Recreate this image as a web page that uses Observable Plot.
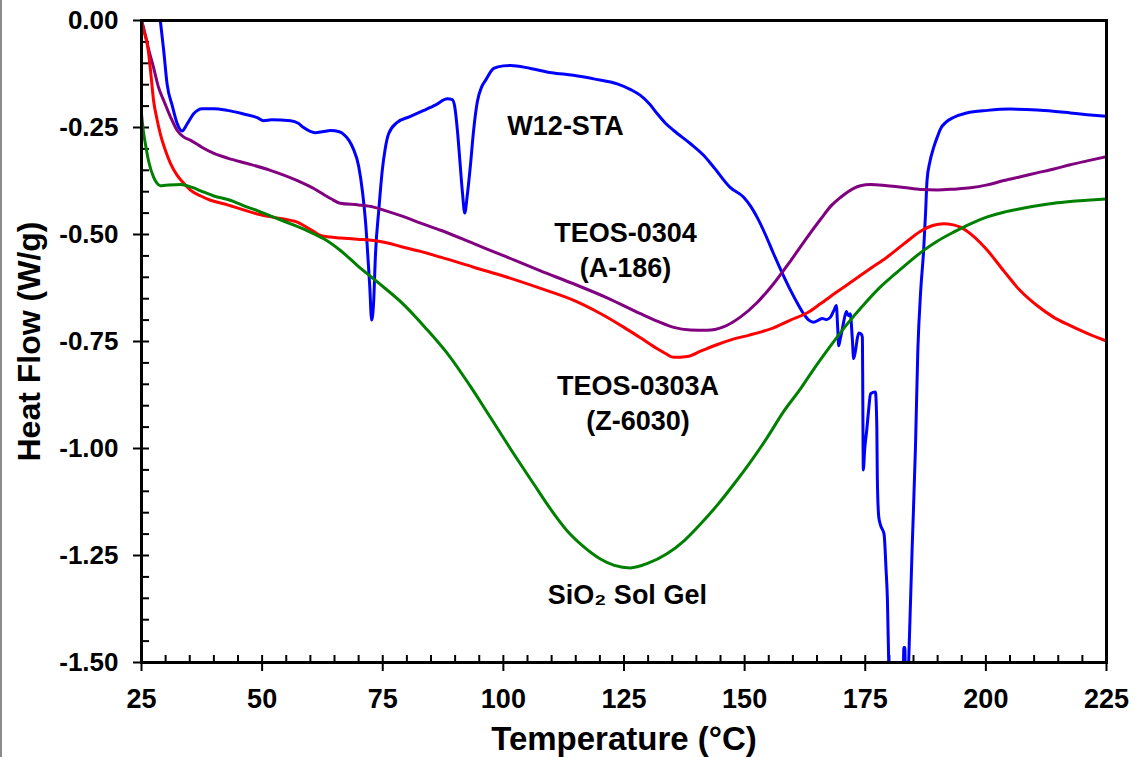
<!DOCTYPE html>
<html>
<head>
<meta charset="utf-8">
<script src="https://cdn.jsdelivr.net/npm/d3@7"></script>
<script src="https://cdn.jsdelivr.net/npm/@observablehq/plot@0.6"></script>
<style>
html, body { margin: 0; padding: 0; background: #fff; }
#chart { position: relative; width: 1138px; height: 757px; overflow: hidden; background: #fff; }
#edge { position: absolute; left: 0; top: 0; width: 2px; height: 757px; background: #8c8c8c; }
</style>
</head>
<body>
<div id="chart"><div id="edge"></div></div>
<script>
// ---- Data ----
const seriesNames = ["W12-STA", "TEOS-0304 (A-186)", "TEOS-0303A (Z-6030)", "SiO2 Sol Gel"];
const seriesColors = ["#0000ff", "#800080", "#ff0000", "#008000"];

const w12T = [28.0, 28.9, 29.6, 30.3, 31.4, 32.4, 33.4, 34.5, 35.8, 37.6, 40.0, 42.8, 46.0, 49.0, 50.3, 52.0, 55.9, 57.5, 58.6, 61.0, 62.5, 64.2, 66.0, 66.9, 68.0, 68.9, 70.0, 70.8, 71.5, 71.8, 72.3, 72.7, 73.1, 73.5, 74.2, 74.9, 75.5, 76.2, 78.0, 80.5, 83.5, 86.0, 88.4, 89.4, 89.9, 90.5, 91.0, 91.5, 92.0, 92.5, 93.2, 93.8, 94.6, 95.5, 96.3, 98.0, 100.0, 101.5, 105.6, 110.0, 114.5, 119.0, 123.6, 126.5, 128.4, 130.3, 131.9, 133.6, 135.3, 138.8, 141.5, 143.6, 147.0, 149.8, 151.3, 152.6, 154.3, 156.0, 157.8, 159.5, 161.0, 162.2, 163.3, 164.3, 165.3, 166.1, 166.9, 167.8, 168.6, 169.0, 169.3, 169.5, 169.8, 170.2, 170.6, 171.1, 171.5, 171.9, 172.3, 172.6, 173.0, 173.4, 173.7, 174.2, 174.4, 174.6, 174.9, 175.3, 175.7, 176.1, 177.1, 177.4, 177.5, 177.8, 178.2, 178.9, 179.3, 179.6, 179.9, 180.2, 182.8, 183.0, 183.2, 183.4, 183.8, 184.0, 184.7, 185.4, 185.9, 186.5, 187.1, 187.5, 187.8, 188.4, 189.2, 190.0, 190.6, 191.8, 193.4, 196.0, 200.3, 205.0, 210.6, 214.0, 217.5, 221.0, 225.0];
const w12V = [0.08, 0.0, -0.07, -0.148, -0.20, -0.241, -0.258, -0.241, -0.218, -0.206, -0.206, -0.21, -0.218, -0.227, -0.234, -0.232, -0.234, -0.240, -0.25, -0.262, -0.260, -0.257, -0.260, -0.266, -0.28, -0.30, -0.34, -0.40, -0.48, -0.53, -0.62, -0.70, -0.66, -0.545, -0.44, -0.35, -0.30, -0.265, -0.238, -0.225, -0.21, -0.197, -0.183, -0.185, -0.20, -0.26, -0.33, -0.40, -0.45, -0.41, -0.335, -0.26, -0.19, -0.155, -0.14, -0.112, -0.106, -0.105, -0.112, -0.122, -0.128, -0.137, -0.148, -0.162, -0.175, -0.195, -0.218, -0.240, -0.257, -0.288, -0.315, -0.343, -0.39, -0.413, -0.435, -0.46, -0.50, -0.545, -0.59, -0.63, -0.662, -0.685, -0.70, -0.705, -0.700, -0.696, -0.699, -0.693, -0.675, -0.666, -0.72, -0.76, -0.745, -0.724, -0.70, -0.68, -0.69, -0.685, -0.74, -0.79, -0.77, -0.74, -0.73, -0.733, -0.74, -1.05, -1.00, -0.958, -0.91, -0.872, -0.868, -0.95, -1.067, -1.16, -1.18, -1.20, -1.28, -1.355, -1.52, -1.60, -1.60, -1.465, -1.465, -1.60, -1.58, -1.50, -1.24, -1.0, -0.77, -0.63, -0.537, -0.45, -0.374, -0.33, -0.296, -0.27, -0.253, -0.237, -0.226, -0.216, -0.21, -0.207, -0.209, -0.212, -0.216, -0.220, -0.224];

const teos0304T = [25.0, 25.5, 26.3, 27.5, 28.5, 29.6, 31.0, 32.4, 33.7, 35.2, 37.5, 39.9, 43.0, 46.9, 51.7, 57.3, 60.8, 64.2, 66.2, 70.0, 73.1, 76.0, 78.7, 83.0, 87.0, 94.0, 100.8, 107.7, 114.5, 121.5, 128.4, 132.0, 135.3, 138.8, 142.2, 145.6, 149.1, 152.5, 156.0, 159.5, 163.0, 165.7, 168.0, 169.9, 172.6, 174.0, 176.1, 179.5, 183.0, 186.5, 189.9, 193.4, 196.8, 200.3, 203.7, 207.2, 210.6, 214.1, 217.5, 221.0, 225.0];
const teos0304V = [0.0, -0.02, -0.06, -0.11, -0.155, -0.187, -0.225, -0.257, -0.272, -0.28, -0.296, -0.31, -0.322, -0.334, -0.35, -0.374, -0.393, -0.416, -0.427, -0.431, -0.436, -0.446, -0.456, -0.474, -0.49, -0.522, -0.553, -0.585, -0.615, -0.648, -0.685, -0.703, -0.717, -0.723, -0.724, -0.716, -0.693, -0.66, -0.615, -0.562, -0.506, -0.465, -0.432, -0.413, -0.392, -0.386, -0.383, -0.386, -0.39, -0.395, -0.396, -0.394, -0.391, -0.384, -0.374, -0.365, -0.356, -0.347, -0.337, -0.328, -0.318];

const teos0303T = [25.0, 25.5, 26.2, 26.9, 27.5, 28.2, 28.9, 30.0, 31.0, 32.4, 33.8, 35.2, 37.3, 39.3, 42.0, 45.5, 49.0, 52.5, 55.9, 57.5, 58.6, 60.3, 62.1, 64.0, 66.2, 69.7, 73.1, 76.0, 78.7, 83.0, 87.0, 94.0, 100.8, 107.7, 114.6, 120.0, 125.0, 128.5, 131.9, 133.6, 135.3, 138.1, 141.0, 144.4, 147.8, 151.0, 153.3, 156.0, 159.5, 163.0, 165.7, 169.0, 172.6, 176.0, 179.5, 183.0, 186.4, 189.0, 191.3, 193.0, 194.7, 197.5, 200.3, 203.7, 207.1, 210.6, 214.0, 217.5, 221.0, 225.0];
const teos0303V = [0.0, -0.025, -0.054, -0.12, -0.187, -0.23, -0.265, -0.305, -0.334, -0.362, -0.381, -0.397, -0.41, -0.42, -0.428, -0.44, -0.452, -0.46, -0.467, -0.472, -0.479, -0.49, -0.502, -0.506, -0.508, -0.511, -0.514, -0.52, -0.528, -0.54, -0.553, -0.577, -0.60, -0.626, -0.654, -0.684, -0.717, -0.742, -0.767, -0.778, -0.787, -0.785, -0.772, -0.757, -0.744, -0.735, -0.728, -0.718, -0.70, -0.683, -0.662, -0.635, -0.607, -0.58, -0.553, -0.522, -0.493, -0.479, -0.475, -0.477, -0.483, -0.505, -0.537, -0.585, -0.631, -0.666, -0.693, -0.713, -0.731, -0.749];

const sio2T = [25.0, 25.4, 25.8, 26.5, 27.5, 28.2, 28.9, 30.0, 33.1, 35.5, 37.9, 40.0, 43.4, 46.0, 49.0, 52.5, 55.9, 59.5, 62.8, 66.3, 69.7, 74.0, 78.7, 84.0, 89.0, 93.0, 97.3, 102.0, 106.3, 110.0, 113.2, 116.5, 120.1, 123.0, 126.3, 130.0, 133.9, 137.5, 140.9, 144.5, 147.8, 151.3, 154.7, 158.0, 161.6, 164.3, 167.5, 171.2, 175.0, 178.1, 181.0, 184.0, 187.1, 190.0, 193.4, 196.8, 200.3, 203.7, 207.2, 210.6, 214.1, 217.5, 221.0, 225.0];
const sio2V = [-0.218, -0.26, -0.288, -0.33, -0.366, -0.380, -0.386, -0.385, -0.383, -0.39, -0.401, -0.41, -0.42, -0.432, -0.444, -0.46, -0.475, -0.492, -0.51, -0.538, -0.572, -0.612, -0.657, -0.72, -0.787, -0.852, -0.927, -1.01, -1.083, -1.145, -1.192, -1.228, -1.258, -1.273, -1.279, -1.268, -1.246, -1.215, -1.176, -1.13, -1.083, -1.03, -0.974, -0.915, -0.86, -0.815, -0.765, -0.71, -0.66, -0.623, -0.594, -0.565, -0.537, -0.515, -0.494, -0.475, -0.459, -0.448, -0.44, -0.433, -0.427, -0.423, -0.42, -0.417];

const xMajorTicks = [25, 50, 75, 100, 125, 150, 175, 200, 225];
const xMinorTicks = d3.range(25, 226, 5);
const yMajorTicks = [0, -0.25, -0.5, -0.75, -1.0, -1.25, -1.5];
const yMinorTicks = d3.range(0, 31).map(i => -i * 0.05);

const labelText = ["W12-STA", "TEOS-0304\n(A-186)", "TEOS-0303A\n(Z-6030)", "SiO\u2082 Sol Gel"];
const labelT = [112.9, 125.3, 127.9, 125.7];
const labelV = [-0.241, -0.5315, -0.889, -1.336];

const xTitle = "Temperature (\u00B0C)";
const yTitle = "Heat Flow (W/g)";

// ---- Build table ----
const seriesT = [w12T, teos0304T, teos0303T, sio2T];
const seriesV = [w12V, teos0304V, teos0303V, sio2V];
const rows = [];
seriesNames.forEach((name, i) => {
  seriesT[i].forEach((t, j) => rows.push({series: name, T: t, v: seriesV[i][j]}));
});
const labels = labelText.map((t, i) => ({text: t, T: labelT[i], v: labelV[i]}));

const W = 1138, H = 757, mL = 141, mR = 32, mT = 20, mB = 95;
const plotW = W - mL - mR, plotH = H - mT - mB;

const chart = Plot.plot({
  width: W, height: H,
  marginLeft: mL, marginRight: mR, marginTop: mT, marginBottom: mB,
  style: {fontFamily: "'Liberation Sans', Arial, sans-serif", fontWeight: "bold", fontSize: "26px", color: "black", background: "white"},
  x: {domain: [25, 225]},
  y: {domain: [-1.5, 0]},
  color: {domain: seriesNames, range: seriesColors},
  marks: [
    Plot.tickY(yMinorTicks, {y: d => d, stroke: "black", strokeWidth: 2, insetRight: plotW - 8}),
    Plot.tickX(xMinorTicks, {x: d => d, stroke: "black", strokeWidth: 2, insetTop: plotH - 7}),
    Plot.axisY({ticks: yMajorTicks, tickSize: 8, tickPadding: 15, strokeWidth: 2, tickFormat: d => d.toFixed(2), label: null, fontSize: 26}),
    Plot.axisX({ticks: xMajorTicks, tickSize: 9, tickPadding: 17, strokeWidth: 2, tickFormat: d => String(d), label: null, fontSize: 27}),
    Plot.line(rows, {x: "T", y: "v", z: "series", stroke: "series", strokeWidth: 3, curve: "monotone-x", clip: true}),
    Plot.text(labels, {x: "T", y: "v", text: "text", fontSize: 27, fontWeight: "bold", lineHeight: 1.3, fill: "black"}),
    Plot.text([yTitle], {text: d => d, frameAnchor: "left", dx: -112, rotate: -90, textAnchor: "middle", lineAnchor: "middle", fontSize: 32, fontWeight: "bold", fill: "black"}),
    Plot.text([xTitle], {text: d => d, frameAnchor: "bottom", dy: 77, textAnchor: "middle", lineAnchor: "middle", fontSize: 33, fontWeight: "bold", fill: "black"}),
    Plot.frame({stroke: "black", strokeWidth: 3})
  ]
});
document.getElementById("chart").appendChild(chart);
</script>
</body>
</html>
